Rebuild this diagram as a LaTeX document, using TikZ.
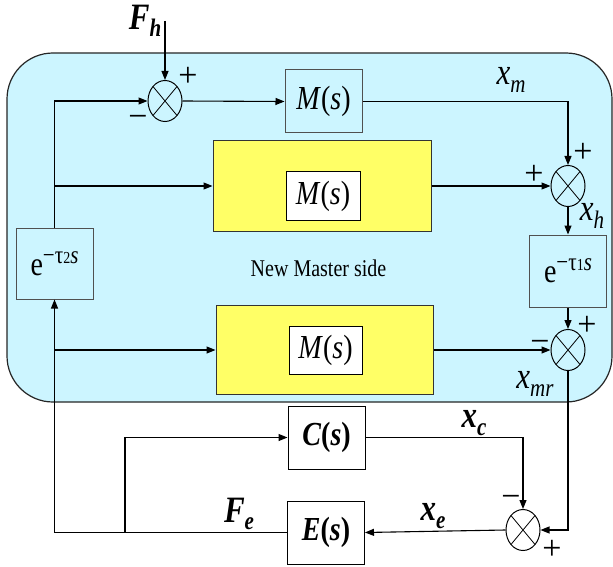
\documentclass[tikz,border=0pt]{standalone}
\usepackage{graphicx}
\usepackage{fontspec}
\setmainfont{Liberation Serif}
\usetikzlibrary{arrows.meta,positioning,shapes.geometric}
\definecolor{masterblue}{HTML}{CCF5FF}
\definecolor{blockyellow}{HTML}{FFFF66}
\definecolor{edgegray}{HTML}{505050}
\newcommand{\tall}[1]{\scalebox{1}[1.2]{#1}}
\newcommand{\siglab}[3][\itshape]{\tall{#1\fontsize{31}{31}\selectfont #2\raisebox{-6pt}{\fontsize{21}{21}\selectfont #3}}}
\newcommand{\tflab}[1]{\tall{\textit{#1}(\textit{s})}}
\newcommand{\delaylab}[1]{\tall{e\raisebox{10pt}{\fontsize{21}{21}\selectfont −τ{\fontsize{14}{14}\selectfont #1}\textit{s}}}}

\begin{document}
\begin{tikzpicture}[
    x=1pt, y=-1pt, >={Triangle[length=9pt,width=7pt]},
    sig/.style={->,line width=1.1pt},
    tfbox/.style={draw=edgegray,line width=1pt,fill=masterblue,
                  minimum width=77pt,minimum height=63pt,inner sep=0pt,
                  font=\fontsize{28}{28}\selectfont},
    innerbox/.style={tfbox,fill=white,draw=black,
                     minimum width=74pt,minimum height=49pt},
    yellowbox/.style={draw=black!80,line width=1pt,fill=blockyellow,
                      minimum width=218pt,minimum height=90pt},
    plantbox/.style={tfbox,fill=white,draw=black},
    sumjct/.style={draw,ellipse,line width=1pt,minimum width=34pt,
                   minimum height=41pt,inner sep=0pt,
                   path picture={\draw[line width=0.8pt]
                     (path picture bounding box.north west)--(path picture bounding box.south east)
                     (path picture bounding box.north east)--(path picture bounding box.south west);}},
    signlab/.style={font=\fontsize{34}{34}\selectfont,inner sep=0pt,
                    text height=20pt,text depth=0pt}
  ]
    \useasboundingbox (0,0) rectangle (613,567);

    % master side
    \node[draw=black!85,line width=1.2pt,fill=masterblue,rounded corners=46pt,
          minimum width=605pt,minimum height=349pt] (master) at (309.5,227.5) {};
    \node[font=\fontsize{20}{20}\selectfont] (caption) at (318.5,268) {\tall{New Master side}};

    \node[tfbox] (mfwd) at (323.5,101.5) {\tflab{M}};
    \node[yellowbox] (ybox1) at (322,186) {};
    \node[innerbox] (mpred1) at (323,196) {\tflab{M}};
    \node[yellowbox,minimum width=217pt,minimum height=89pt] (ybox2) at (324.5,350) {};
    \node[innerbox,minimum width=73pt,minimum height=48pt] (mpred2) at (325.5,350) {\tflab{M}};
    \node[tfbox,minimum height=72pt] (dly1) at (568,271) {\delaylab{1}};
    \node[tfbox,minimum height=71pt] (dly2) at (54.5,263.5) {\delaylab{2}};

    \node[sumjct] (s1) at (165,101) {};
    \node[sumjct] (s2) at (568,186) {};
    \node[sumjct] (s3) at (568,350) {};
    \node[sumjct,fill=white] (s4) at (523,530) {};

    % slave side
    \node[plantbox] (ctrl) at (326.5,437.5) {\bfseries\tflab{C}};
    \node[plantbox] (env) at (326,532.5) {\bfseries\tflab{E}};

    \coordinate (fh) at (165,21);
    \coordinate (tap) at (125,532.5);

    % signals
    \node (lfh) at (145,21) {\siglab[\bfseries\itshape]{F}{h}};
    \node (lxm) at (511,80) {\siglab{x}{m}};
    \node (lxh) at (592,216) {\siglab{x}{h}};
    \node (lxmr) at (535,384) {\siglab{x}{mr}};
    \node (lxc) at (474,423) {\siglab[\bfseries\itshape]{x}{c}};
    \node (lxe) at (433,516) {\siglab[\bfseries\itshape]{x}{e}};
    \node (lfe) at (239,514) {\siglab[\bfseries\itshape]{F}{e}};

    \node[signlab] at (188,77) {+};
    \node[signlab] at (138,118) {−};
    \node[signlab] at (583,153) {+};
    \node[signlab] at (534,174) {+};
    \node[signlab] at (587,325) {+};
    \node[signlab] at (540,342) {−};
    \node[signlab] at (511,497) {−};
    \node[signlab] at (552,549) {+};

    \draw[sig] (fh) -- (s1.north);
    \draw[sig] (dly2.north) |- (s1.west);
    \draw[sig] (dly2.north |- ybox1.west) -- (ybox1.west);
    \draw[sig] (s1.east) -- (mfwd.west);
    \draw[sig] (mfwd.east) -| (s2.north);
    \draw[sig] (ybox1.east) -- (s2.west);
    \draw[sig] (s2.south) -- (dly1.north);
    \draw[sig] (dly1.south) -- (s3.north);
    \draw[sig] (ybox2.east) -- (s3.west);
    \draw[sig] (dly2.south |- ybox2.west) -- (ybox2.west);
    \draw[sig] (s3.south) |- (s4.east);
    \draw[sig] (ctrl.east) -| (s4.north);
    \draw[sig] (s4.west) -- (env.east);
    \draw[sig] (env.west) -| (dly2.south);
    \draw[sig] (tap) |- (ctrl.west);
  \end{tikzpicture}
\end{document}
